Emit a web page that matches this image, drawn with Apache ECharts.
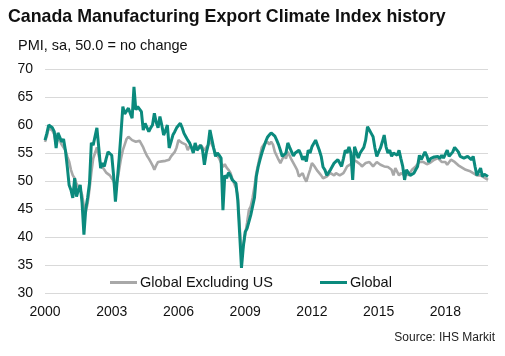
<!DOCTYPE html>
<html>
<head>
<meta charset="utf-8">
<script src="https://cdn.jsdelivr.net/npm/echarts@6/dist/echarts.min.js"></script>
<style>
html,body{margin:0;padding:0;background:#fff;}
#c{width:505px;height:356px;}
</style>
</head>
<body>
<div id="c"></div>
<script>
// Monthly categories Jan 2000 .. Dec 2019
var startYear = 2000, endYear = 2019;
var months = [];
for (var y = startYear; y <= endYear; y++) {
  for (var m = 1; m <= 12; m++) months.push(y + '-' + (m < 10 ? '0' + m : m));
}
var yTicks = [30, 35, 40, 45, 50, 55, 60, 65, 70];
var xTickYears = ['2000', '2003', '2006', '2009', '2012', '2015', '2018'];

// Global (teal)
var globalIdx = [
  57.3, 58.5, 60.0, 60.3, 59.5, 58.8, 55.9, 58.6, 57.8, 57.0, 57.5, 55.5,
  52.6, 49.3, 48.4, 47.0, 50.5, 47.2, 48.4, 49.3, 46.1, 40.4, 45.0, 47.0,
  49.6, 56.8, 56.4, 56.6, 59.5, 56.0, 52.3, 53.2, 52.6, 54.0, 55.2, 55.0,
  54.6, 51.0, 46.3, 50.2, 54.0, 58.5, 63.3, 62.0, 61.8, 63.0, 63.3, 61.2,
  66.8, 62.7, 63.3, 63.0, 62.4, 59.1, 60.3, 60.0, 58.8, 59.5, 60.0, 62.1,
  60.5, 59.5, 61.5, 60.0, 58.2, 59.0, 60.0, 55.9, 57.0, 58.2, 58.8, 59.5,
  59.8, 60.3, 59.5, 58.5, 57.9, 57.3, 56.8, 56.0, 55.0, 56.8, 55.5, 55.9,
  56.4, 55.5, 52.9, 55.0, 56.4, 59.1, 57.5, 55.9, 54.4, 55.0, 54.6, 54.1,
  44.8, 51.0, 50.5, 51.5, 51.0, 50.2, 50.0, 49.6, 46.6, 40.7, 34.5, 38.3,
  40.9, 41.5, 41.8, 43.9, 43.6, 47.0, 50.8, 52.5, 53.8, 55.0, 56.0, 57.0,
  57.8, 58.2, 58.6, 58.6, 58.0, 57.3, 56.5, 55.5, 54.4, 54.6, 55.0, 56.8,
  56.0, 55.9, 54.5, 55.0, 54.8, 55.5, 54.8, 53.8, 54.4, 53.5, 55.5, 55.0,
  56.1, 55.8, 57.3, 56.4, 55.5, 54.4, 52.5, 52.0, 51.0, 51.5, 52.0, 51.8,
  53.2, 53.0, 53.8, 53.2, 52.6, 54.0, 55.5, 55.0, 56.1, 55.0, 50.2, 56.1,
  55.9, 54.1, 55.0, 55.0, 56.0, 57.3, 59.7, 59.1, 58.5, 57.9, 55.9, 54.4,
  55.2, 55.9, 57.0, 58.2, 56.1, 55.0, 55.5, 54.4, 55.0, 54.8, 54.6, 55.5,
  54.0, 52.6, 50.2, 52.0, 51.5, 51.0, 51.2, 51.4, 52.0, 52.6, 54.6, 53.8,
  54.0, 55.2, 54.5, 53.4, 54.0, 54.1, 54.3, 54.6, 54.4, 54.0, 54.6, 54.1,
  54.8, 55.5, 54.4, 54.8, 55.2, 56.0, 55.6, 55.2, 54.4, 54.6, 54.1, 54.0,
  54.4, 54.2, 53.8, 54.4, 52.6, 51.0, 50.8, 52.3, 50.8, 51.2, 51.0, 50.8
];

// Global Excluding US (grey)
var globalExUS = [
  57.0, 58.0, 59.5, 59.8, 59.0, 58.3, 56.5, 57.8, 57.2, 56.5, 56.8, 55.5,
  54.4, 53.5, 52.0, 51.0, 50.5, 49.5, 49.0, 48.5, 47.5, 45.5, 44.5, 46.0,
  48.5, 51.5, 54.0, 55.0, 56.0, 54.5, 53.0, 52.5, 52.0, 51.5, 51.5, 51.0,
  50.5, 50.0, 49.0, 50.0, 52.0, 54.0, 55.5, 56.5, 57.5, 57.9, 57.9, 57.3,
  57.5, 57.0, 56.8, 57.2, 57.0, 56.0, 55.2, 54.5, 54.0, 53.4, 52.8, 52.0,
  52.8, 53.4, 53.2, 53.5, 53.8, 53.6, 53.8, 53.8, 54.4, 54.6, 55.2, 56.0,
  57.3, 57.0, 56.8, 57.0, 56.5, 55.5, 56.2, 56.0, 55.8, 56.4, 56.0, 56.2,
  56.4, 56.0, 55.5, 56.0, 56.4, 57.3, 57.0, 55.8, 55.0, 54.8, 54.0, 53.2,
  52.5, 53.0, 52.4, 52.0, 51.5, 50.5, 49.6, 48.8, 47.5, 42.0, 36.5, 38.5,
  40.5, 42.5, 44.8, 45.5, 47.0, 49.0, 51.4, 53.0, 54.5, 56.0, 56.5, 56.8,
  57.0, 56.5, 57.0, 56.5, 55.2, 54.5, 53.8, 53.2, 53.5, 54.6, 54.0, 55.2,
  54.5, 53.8, 53.5, 52.6, 52.0, 50.8, 51.0, 51.4, 50.5, 49.9, 51.0, 52.0,
  53.2, 52.8, 52.6, 51.8, 51.4, 51.0, 50.5, 50.8, 50.8, 51.0, 51.4, 51.2,
  51.0, 51.4, 51.2, 51.0, 51.2, 51.4, 52.0, 52.6, 52.5, 53.0, 53.8, 53.8,
  53.5, 53.2, 53.0, 52.6, 52.8, 53.2, 53.0, 53.4, 53.0, 52.6, 52.8, 53.4,
  53.2, 52.9, 53.0, 52.6, 52.3, 52.5, 52.6, 52.0, 51.0, 52.3, 52.0, 51.0,
  51.4, 51.2, 51.0, 51.4, 51.0, 51.5, 52.0, 52.2, 52.6, 52.8, 53.4, 53.2,
  53.4, 53.4, 53.0, 53.2, 53.3, 53.0, 53.8, 53.5, 54.1, 53.8, 53.4, 53.6,
  53.4, 52.9, 53.2, 53.8, 53.5, 53.4, 53.2, 52.8, 52.6, 52.4, 52.2, 52.0,
  52.0, 51.8, 51.7, 51.4, 51.2, 51.0, 51.2, 51.0, 50.8, 50.6, 50.4, 50.2
];

var FONT = 'Liberation Sans, Arial, sans-serif';
var chart = echarts.init(document.getElementById('c'), null, {renderer: 'canvas'});
chart.setOption({
  backgroundColor: '#ffffff',
  animation: false,
  title: [
    {text: 'Canada Manufacturing Export Climate Index history', left: 8, top: 8, padding: 0,
     textStyle: {fontFamily: FONT, fontSize: 17.8, fontWeight: 'bold', color: '#111'}},
    {text: 'PMI, sa, 50.0 = no change', left: 18, top: 38, padding: 0,
     textStyle: {fontFamily: FONT, fontSize: 14.5, fontWeight: 'normal', color: '#111'}},
    {text: 'Source: IHS Markit', right: 10, top: 332, padding: 0,
     textStyle: {fontFamily: FONT, fontSize: 12, fontWeight: 'normal', color: '#222'}}
  ],
  legend: {
    left: 110, top: 275, padding: 0,
    itemWidth: 27, itemHeight: 3, itemGap: 47,
    icon: 'rect',
    textStyle: {fontFamily: FONT, fontSize: 14.5, color: '#111', padding: [0, 0, 0, -2]},
    data: ['Global Excluding US', 'Global']
  },
  grid: {left: 45, right: 17, top: 69, bottom: 63, containLabel: false},
  xAxis: {
    type: 'category', data: months, boundaryGap: false,
    axisLine: {show: false}, axisTick: {show: false},
    axisLabel: {
      interval: 35, margin: 12, fontFamily: FONT, fontSize: 14, color: '#111',
      formatter: function (v) { var yr = v.slice(0, 4); return xTickYears.indexOf(yr) >= 0 ? yr : ''; }
    },
    splitLine: {show: false}
  },
  yAxis: {
    type: 'value', min: yTicks[0], max: yTicks[yTicks.length - 1], interval: 5,
    axisLine: {show: false}, axisTick: {show: false},
    axisLabel: {margin: 12, fontFamily: FONT, fontSize: 14, color: '#111'},
    splitLine: {lineStyle: {color: '#d9d9d9', width: 1}}
  },
  series: [
    {name: 'Global Excluding US', type: 'line', data: globalExUS, showSymbol: false,
     lineStyle: {color: '#a8a8a8', width: 2.6}, itemStyle: {color: '#a8a8a8'}, z: 2},
    {name: 'Global', type: 'line', data: globalIdx, showSymbol: false,
     lineStyle: {color: '#0b8a7d', width: 3}, itemStyle: {color: '#0b8a7d'}, z: 3}
  ]
});
</script>
</body>
</html>
